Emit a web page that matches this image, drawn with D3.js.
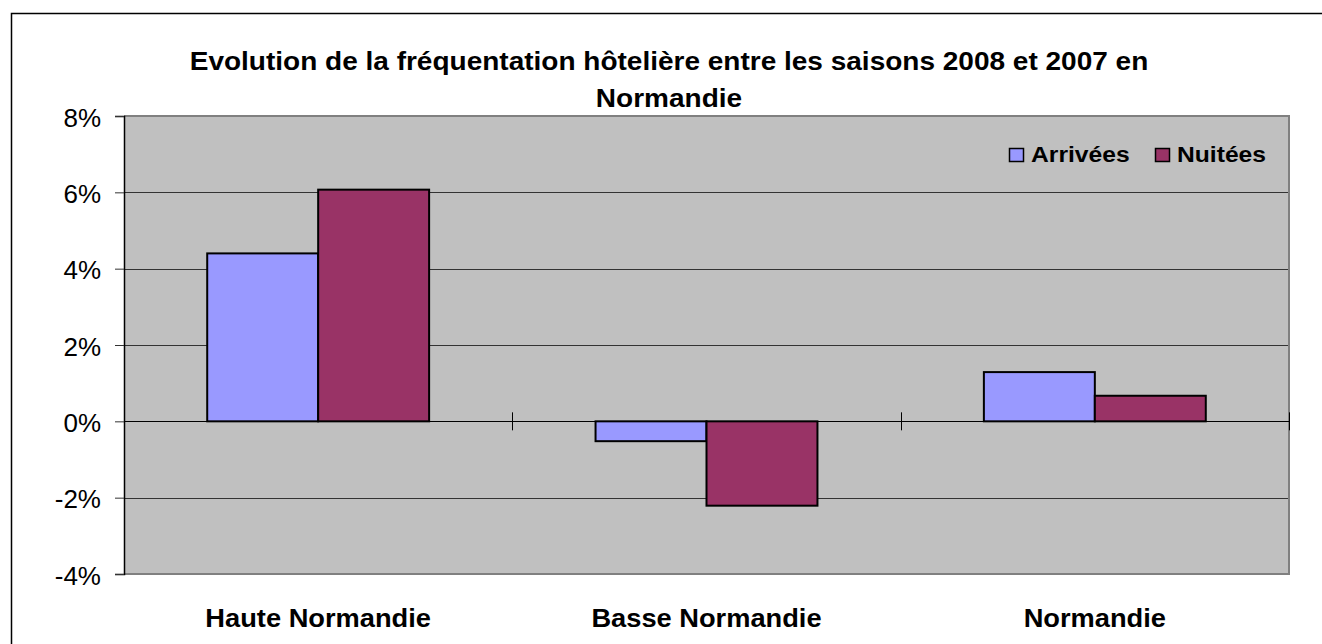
<!DOCTYPE html>
<html>
<head>
<meta charset="utf-8">
<script src="https://cdn.jsdelivr.net/npm/d3@7"></script>
<style>
  body { margin: 0; background: #fff; }
  svg { display: block; font-family: "Liberation Sans", Arial, sans-serif; }
</style>
</head>
<body>
<div id="chart"></div>
<script>
const regions = ['Haute Normandie', 'Basse Normandie', 'Normandie'];
const seriesNames = ['Arrivées', 'Nuitées'];
const arrivees = [4.40, -0.52, 1.29];
const nuitees = [6.07, -2.21, 0.67];
const yTicks = [-4, -2, 0, 2, 4, 6, 8];
const colors = ['#9999ff', '#993366'];

const width = 1322, height = 644;
const plot = { left: 124, right: 1289, top: 116, bottom: 574 };

const svg = d3.select('#chart').append('svg')
    .attr('width', width)
    .attr('height', height);

// stretch text horizontally by a factor (reference text is a bit wide)
function stretch(sel, k) {
    sel.each(function () {
        const n = this.getComputedTextLength();
        d3.select(this).attr('textLength', n * k).attr('lengthAdjust', 'spacingAndGlyphs');
    });
}

// outer chart frame
svg.append('rect')
    .attr('x', 11.5).attr('y', 13.5)
    .attr('width', 1330).attr('height', 660)
    .attr('fill', '#fff')
    .attr('stroke', '#000')
    .attr('stroke-width', 1.5);

const y = d3.scaleLinear().domain([-4, 8]).range([plot.bottom, plot.top]);
const x0 = d3.scaleBand().domain(regions).range([plot.left, plot.right]);
const x1 = d3.scaleBand().domain(seriesNames)
    .range([0, x0.bandwidth()])
    .paddingOuter(0.75).paddingInner(0);

// plot background
svg.append('rect')
    .attr('x', plot.left).attr('y', plot.top)
    .attr('width', plot.right - plot.left)
    .attr('height', plot.bottom - plot.top)
    .attr('fill', '#c0c0c0');

// gridlines
svg.append('g')
    .selectAll('line')
    .data(yTicks.filter(d => d !== -4 && d !== 8))
    .join('line')
    .attr('x1', plot.left).attr('x2', plot.right)
    .attr('y1', d => Math.round(y(d)) + 0.5)
    .attr('y2', d => Math.round(y(d)) + 0.5)
    .attr('stroke', '#333')
    .attr('stroke-width', 1);

// plot border (grey)
svg.append('path')
    .attr('d', `M${plot.left},${plot.top}H${plot.right}V${plot.bottom}H${plot.left}`)
    .attr('fill', 'none')
    .attr('stroke', '#808080')
    .attr('stroke-width', 2);

// bars
const rows = regions.map((r, i) => ({ region: r, values: [arrivees[i], nuitees[i]] }));
const groups = svg.append('g')
    .selectAll('g')
    .data(rows)
    .join('g')
    .attr('transform', d => `translate(${x0(d.region)},0)`);

groups.selectAll('rect')
    .data(d => d.values.map((v, j) => ({ name: seriesNames[j], v: v, j: j })))
    .join('rect')
    .attr('x', d => x1(d.name))
    .attr('y', d => y(Math.max(0, d.v)))
    .attr('width', x1.bandwidth())
    .attr('height', d => Math.abs(y(d.v) - y(0)))
    .attr('fill', d => colors[d.j])
    .attr('stroke', '#000')
    .attr('stroke-width', 2);

// y axis
const yAxis = d3.axisLeft(y)
    .tickValues(yTicks)
    .tickSize(9)
    .tickPadding(14)
    .tickFormat(d => d + '%');

const yg = svg.append('g')
    .attr('transform', `translate(${plot.left},0)`)
    .call(yAxis);
yg.select('.domain').attr('stroke', '#000').attr('stroke-width', 1.5);
yg.selectAll('.tick line').attr('stroke', '#333');
yg.selectAll('.tick text')
    .attr('font-size', 26)
    .attr('fill', '#000')
    .attr('dy', 10)
    .attr('font-family', '"Liberation Sans", Arial, sans-serif');

// zero line with category ticks
svg.append('line')
    .attr('x1', plot.left).attr('x2', plot.right)
    .attr('y1', Math.round(y(0)) + 0.5).attr('y2', Math.round(y(0)) + 0.5)
    .attr('stroke', '#000');

svg.append('g')
    .selectAll('line')
    .data(regions)
    .join('line')
    .attr('x1', d => Math.round(x0(d) + x0.bandwidth()) + 0.5)
    .attr('x2', d => Math.round(x0(d) + x0.bandwidth()) + 0.5)
    .attr('y1', y(0) - 9)
    .attr('y2', y(0) + 9)
    .attr('stroke', '#000');

// category labels
const cats = svg.append('g')
    .selectAll('text')
    .data(regions)
    .join('text')
    .attr('x', d => x0(d) + x0.bandwidth() / 2)
    .attr('y', 627)
    .attr('text-anchor', 'middle')
    .attr('font-size', 25)
    .attr('font-weight', 'bold')
    .text(d => d);
stretch(cats, 1.09);

// title
const title = svg.append('text')
    .attr('text-anchor', 'middle')
    .attr('font-size', 25)
    .attr('font-weight', 'bold');
title.append('tspan').attr('x', 669).attr('y', 70)
    .text('Evolution de la fréquentation hôtelière entre les saisons 2008 et 2007 en');
title.append('tspan').attr('x', 669).attr('y', 107)
    .text('Normandie');
stretch(title.selectAll('tspan'), 1.12);

// legend
const legend = svg.append('g')
    .attr('transform', 'translate(1009,148)');
const legendX = [0, 146];
const lg = legend.selectAll('g')
    .data(seriesNames)
    .join('g')
    .attr('transform', (d, i) => `translate(${legendX[i]},0)`);
lg.append('rect')
    .attr('x', 0.5).attr('y', 0.5)
    .attr('width', 14).attr('height', 13)
    .attr('fill', (d, i) => colors[i])
    .attr('stroke', '#000')
    .attr('stroke-width', 1.5);
const lt = lg.append('text')
    .attr('x', 22).attr('y', 14)
    .attr('font-size', 22)
    .attr('font-weight', 'bold')
    .text(d => d);
stretch(lt, 1.12);
</script>
</body>
</html>
